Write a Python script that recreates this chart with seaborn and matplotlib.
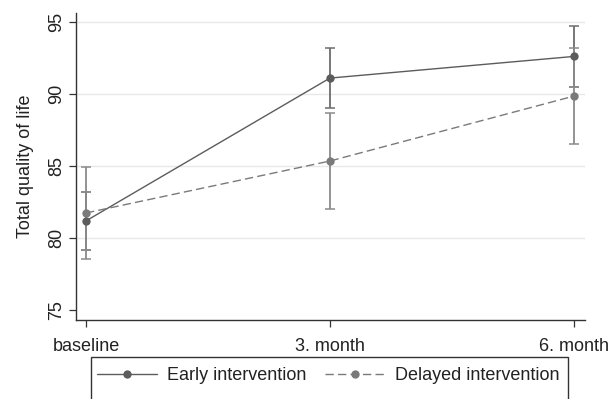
import numpy as np
import pandas as pd
import matplotlib.pyplot as plt
import seaborn as sns
from matplotlib.patches import Rectangle

# ---------------------------------------------------------------
# data (means and 95% CI)
# ---------------------------------------------------------------
timepoints = ['baseline', '3. month', '6. month']
groups = ['Early intervention', 'Delayed intervention']

early_mean = [81.2, 91.1, 92.6]
early_low = [79.2, 89.0, 90.5]
early_high = [83.2, 93.2, 94.7]

delayed_mean = [81.75, 85.35, 89.85]
delayed_low = [78.55, 82.0, 86.5]
delayed_high = [84.95, 88.65, 93.2]

y_ticks = [75, 80, 85, 90, 95]

df = pd.DataFrame({
    'time': timepoints * 2,
    'pos': list(range(len(timepoints))) * 2,
    'group': [groups[0]] * 3 + [groups[1]] * 3,
    'mean': early_mean + delayed_mean,
    'low': early_low + delayed_low,
    'high': early_high + delayed_high,
})

sns.set_style('white')
plt.rcParams['font.family'] = ['Liberation Sans', 'DejaVu Sans']
plt.rcParams['font.size'] = 13

line_col = {groups[0]: '#5c5c5c', groups[1]: '#7a7a7a'}
err_col = {groups[0]: '#6c6c6c', groups[1]: '#8a8a8a'}
dash = {groups[0]: '', groups[1]: (6, 3)}

fig = plt.figure(figsize=(6.13, 3.99), dpi=100)
ax = fig.add_axes([0.124, 0.198, 0.830, 0.769])

# error bars first, so the points sit on top
for g in groups:
    d = df[df['group'] == g]
    ax.errorbar(d['pos'], d['mean'],
                yerr=[d['mean'] - d['low'], d['high'] - d['mean']],
                fmt='none', ecolor=err_col[g], elinewidth=1.3,
                capsize=3.5, capthick=1.1, zorder=2)

sns.lineplot(data=df, x='pos', y='mean', hue='group', style='group',
             hue_order=groups, style_order=groups,
             palette=line_col, dashes=dash, markers={groups[0]: 'o', groups[1]: 'o'},
             markersize=6, markeredgewidth=0, linewidth=1.0,
             legend=False, ax=ax, zorder=3)

# axes styling
ax.set_xlim(-0.041, 2.045)
ax.set_ylim(74.33, 95.6)
ax.set_xticks(range(len(timepoints)))
ax.set_xticklabels(timepoints)
ax.set_yticks(y_ticks)
ax.set_xlabel('')
ax.set_ylabel('Total quality of life', fontsize=13, color='#222222', labelpad=10)
ax.tick_params(axis='y', labelrotation=90, length=5, width=0.9, pad=3,
               colors='#333333', labelcolor='#222222', left=True)
ax.tick_params(axis='x', length=5, width=0.9, pad=8,
               colors='#333333', labelcolor='#222222', bottom=True)
for lab in ax.get_yticklabels():
    lab.set_va('center')

# light horizontal grid at 80..95
for gy in y_ticks[1:]:
    ax.axhline(gy, color='#e8e8e8', lw=1.0, zorder=0)

sns.despine(ax=ax)
ax.spines['left'].set_color('#333333')
ax.spines['bottom'].set_color('#333333')
ax.spines['left'].set_linewidth(1.0)
ax.spines['bottom'].set_linewidth(1.0)

# legend below the plot, box runs off the bottom edge like the original
handles = [l for l in ax.lines if l.get_marker() == 'o']
fig.legend(handles, groups, loc='center left', ncol=2,
           bbox_to_anchor=(97 / 613, 1 - 376 / 399), frameon=False,
           handlelength=3.3, handletextpad=0.6, columnspacing=1.0,
           borderpad=0, borderaxespad=0, fontsize=13, labelcolor='#222222')
fig.add_artist(Rectangle((91 / 613, -0.05), (568 - 91) / 613, (399 - 357) / 399 + 0.05,
                         transform=fig.transFigure, fill=False,
                         ec='#333333', lw=1.0))

plt.savefig('out.png', dpi=100)
